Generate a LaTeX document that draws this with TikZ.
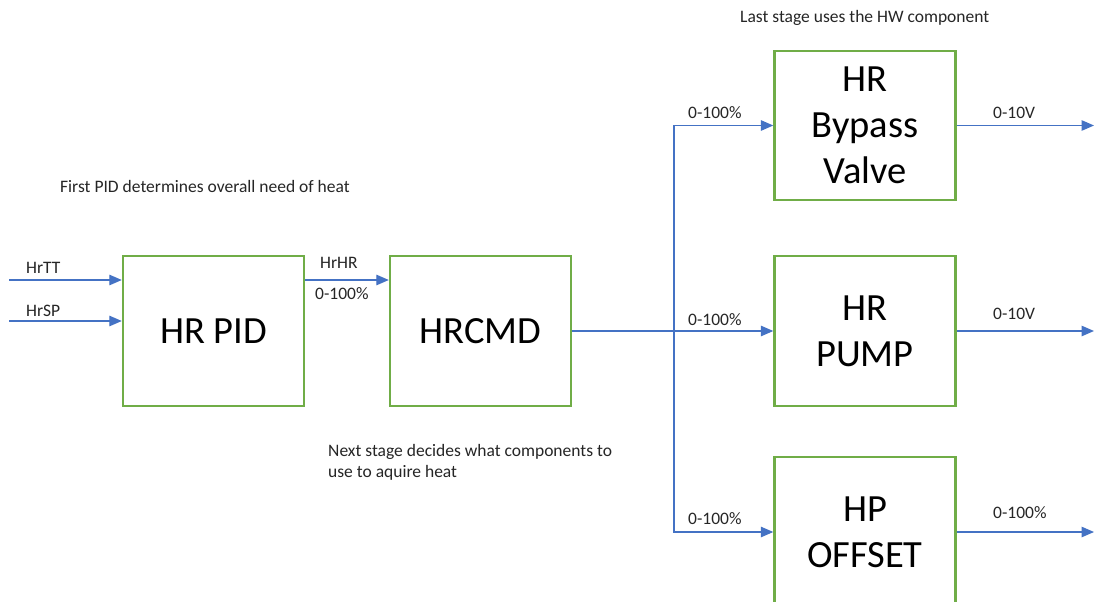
\documentclass[tikz,border=0pt]{standalone}
\usepackage{fontspec}
\setmainfont{Carlito}
\usetikzlibrary{arrows.meta}
\definecolor{boxgreen}{RGB}{112,173,71}
\definecolor{flowblue}{RGB}{68,114,196}
\tikzset{
  block/.style={draw=boxgreen, line width=2.4pt, minimum width=181pt, minimum height=150pt,
                inner sep=0pt, align=center, font=\fontsize{38.5}{46}\selectfont},
  flow/.style={draw=flowblue, line width=1.3pt, -{Triangle[length=12.5pt,width=10.5pt]}},
  wire/.style={draw=flowblue, line width=1.3pt},
  lbl/.style={anchor=base west, inner sep=0pt, font=\fontsize{17.5}{21}\selectfont, text=black!85},
}
\begin{document}
\begin{tikzpicture}[x=1pt,y=-1pt]
\clip (0,0) rectangle (1095,602);
\fill[white] (0,0) rectangle (1095,602);

% processing stages
\node[block] (pid)  at (213.5,331) {HR PID};
\node[block] (cmd)  at (480.5,331) {HRCMD};
\node[block, minimum height=149pt] (byp) at (865,125.5) {HR\\Bypass\\Valve};
\node[block] (pump) at (865,331) {HR\\PUMP};
\node[block] (off)  at (865,532) {HP\\OFFSET};

% free ends of the signal lines
\coordinate (tt) at (9,280);
\coordinate (sp) at (9,321);
\coordinate (hr) at (304,280);
\coordinate (j)  at (674,331);
\coordinate (e1) at (1094,125);
\coordinate (e2) at (1094,331);
\coordinate (e3) at (1094,532);

% inputs to the PID
\draw[flow] (tt) -- (tt -| pid.west);
\draw[flow] (sp) -- (sp -| pid.west);
% PID output to the command stage
\draw[flow] (hr -| pid.east) -- (hr -| cmd.west);
% command stage fan-out
\draw[wire] (cmd.east) -- (j);
\draw[flow] (j) |- (byp.west);
\draw[flow] (j) -- (pump.west);
\draw[flow] (j) |- (off.west);
% outputs to hardware
\draw[flow] (byp.east)  -- (byp.east -| e1);
\draw[flow] (pump.east) -- (pump.east -| e2);
\draw[flow] (off.east)  -- (off.east -| e3);

% signal labels
\node[lbl] (lTT) at (26,273) {HrTT};
\node[lbl] (lSP) at (26,316) {HrSP};
\node[lbl] (lHR) at (320,268) {HrHR};
\node[lbl] (lHRr) at (315,299) {0-100\%};
\node[lbl] (lb) at (688,118) {0-100\%};
\node[lbl] (lp) at (688,325) {0-100\%};
\node[lbl] (lo) at (688,524) {0-100\%};
\node[lbl] (ob) at (993,118) {0-10V};
\node[lbl] (op) at (993,319) {0-10V};
\node[lbl] (oo) at (993,518) {0-100\%};

% notes
\node[lbl] (n1) at (740,23) {Last stage uses the HW component};
\node[lbl] (n2) at (60,192) {First PID determines overall need of heat};
\node[lbl, align=left, anchor=north west] (n3) at (328,444.5) {Next stage decides what components to\\use to aquire heat};
\end{tikzpicture}
\end{document}
